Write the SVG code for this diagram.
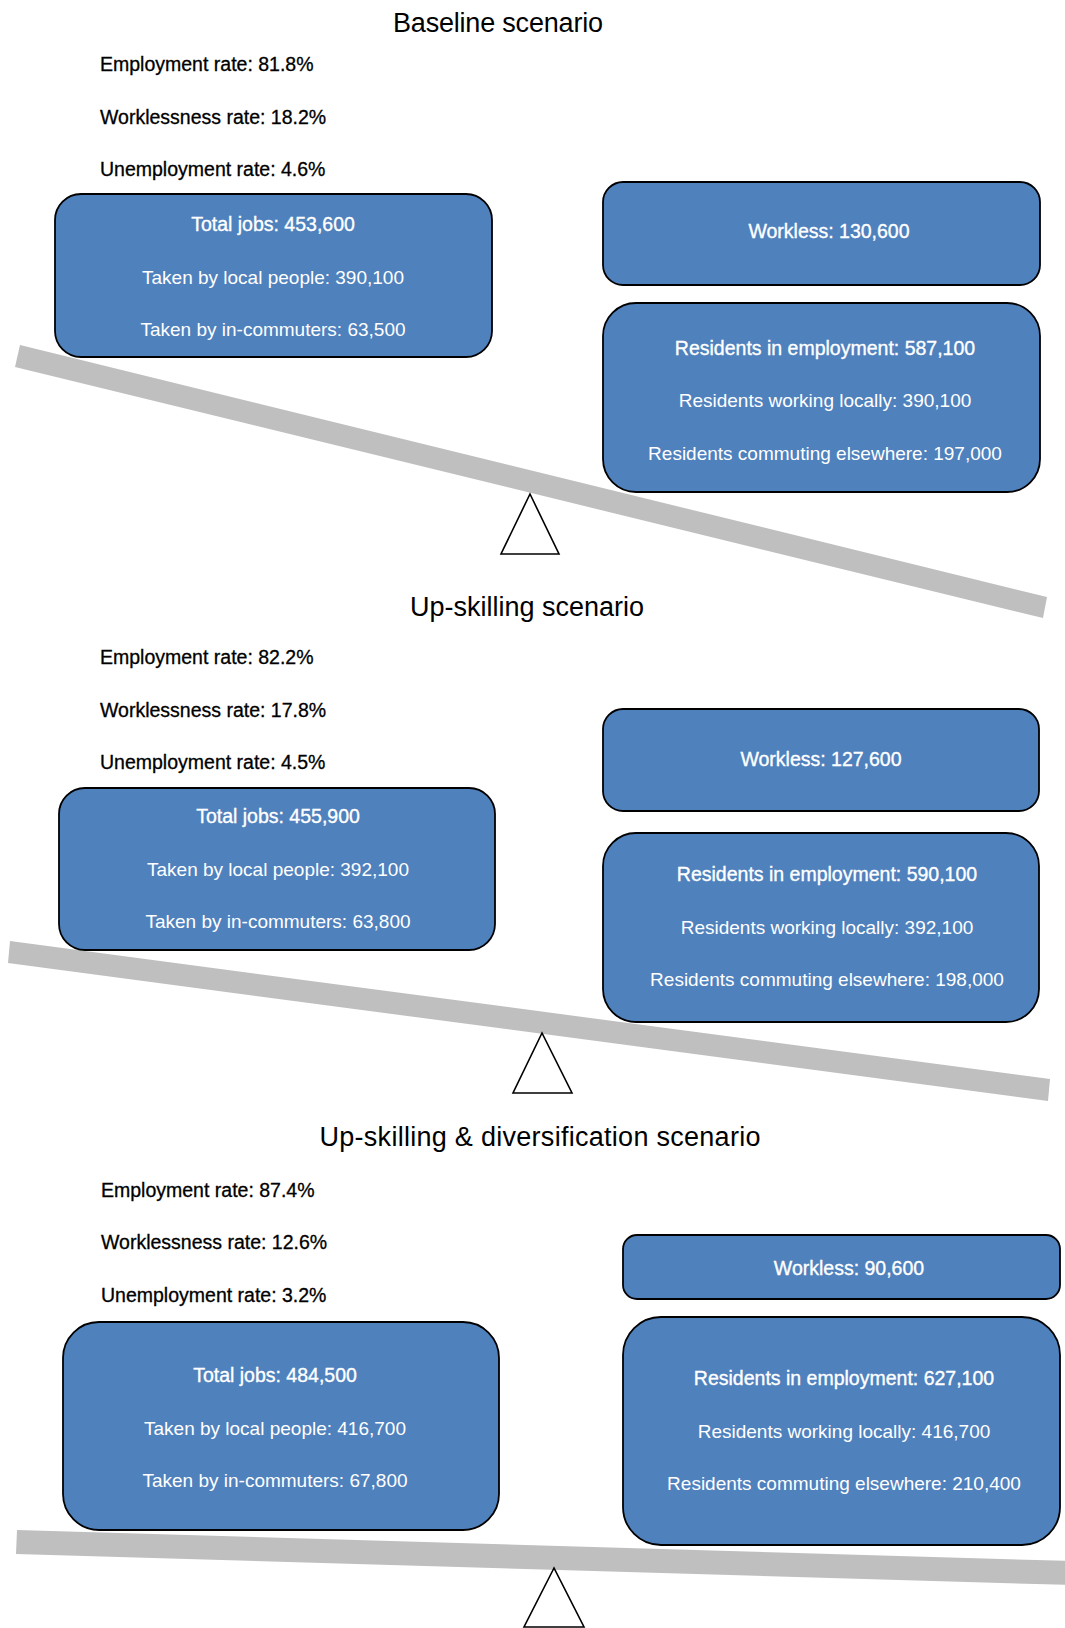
<svg xmlns="http://www.w3.org/2000/svg" width="1065" height="1628" viewBox="0 0 1065 1628">
  <style>
    .title { font-family: "Liberation Sans", Arial, sans-serif; font-size: 27px; fill: #000; text-anchor: middle; }
    .rate { font-family: "Liberation Sans", Arial, sans-serif; font-size: 19.5px; fill: #000; stroke: #000; stroke-width: 0.3px; }
    .box { fill: #4F81BD; stroke: #000; stroke-width: 1.8px; }
    .head { font-family: "Liberation Sans", Arial, sans-serif; font-size: 19.5px; fill: #fff; stroke: #fff; stroke-width: 0.35px; text-anchor: middle; }
    .line { font-family: "Liberation Sans", Arial, sans-serif; font-size: 19px; fill: #fff; text-anchor: middle; }
    .beam { fill: #BFBFBF; }
    .pivot { fill: #fff; stroke: #000; stroke-width: 1.6px; stroke-linejoin: miter; }
  </style>

  <rect width="1065" height="1628" fill="#fff"/>

  <!-- Seesaw beams and pivots, drawn beneath the boxes -->
  <g id="seesaws">
    <polygon class="beam" points="20,345 1047,597 1043,618 15,367"/>
    <polygon class="pivot" points="530,494 501,554 559,554"/>
    <polygon class="beam" points="10,941 1050,1079 1048,1101 8,963"/>
    <polygon class="pivot" points="542,1033 513,1093 572,1093"/>
    <polygon class="beam" points="17,1530 1070,1561 1070,1585 16,1554"/>
    <polygon class="pivot" points="554,1568 524,1627 584,1627"/>
  </g>

  <!-- Baseline scenario -->
  <g id="baseline-header">
    <text class="title" x="498" y="32" textLength="210">Baseline scenario</text>
    <text class="rate" x="100" y="71">Employment rate: 81.8%</text>
    <text class="rate" x="100" y="124">Worklessness rate: 18.2%</text>
    <text class="rate" x="100" y="176">Unemployment rate: 4.6%</text>
  </g>
  <g id="baseline-jobs">
    <rect class="box" x="55" y="194" width="437" height="163" rx="26" ry="26"/>
    <text class="head" x="273" y="231">Total jobs: 453,600</text>
    <text class="line" x="273" y="284">Taken by local people: 390,100</text>
    <text class="line" x="273" y="336">Taken by in-commuters: 63,500</text>
  </g>
  <g id="baseline-workless">
    <rect class="box" x="603" y="182" width="437" height="103" rx="20" ry="20"/>
    <text class="head" x="829" y="238">Workless: 130,600</text>
  </g>
  <g id="baseline-residents">
    <rect class="box" x="603" y="303" width="437" height="189" rx="33" ry="33"/>
    <text class="head" x="825" y="355">Residents in employment: 587,100</text>
    <text class="line" x="825" y="407">Residents working locally: 390,100</text>
    <text class="line" x="825" y="460">Residents commuting elsewhere: 197,000</text>
  </g>

  <!-- Up-skilling scenario -->
  <g id="upskilling-header">
    <text class="title" x="527" y="616" textLength="234">Up-skilling scenario</text>
    <text class="rate" x="100" y="664">Employment rate: 82.2%</text>
    <text class="rate" x="100" y="717">Worklessness rate: 17.8%</text>
    <text class="rate" x="100" y="769">Unemployment rate: 4.5%</text>
  </g>
  <g id="upskilling-jobs">
    <rect class="box" x="59" y="788" width="436" height="162" rx="26" ry="26"/>
    <text class="head" x="278" y="823">Total jobs: 455,900</text>
    <text class="line" x="278" y="876">Taken by local people: 392,100</text>
    <text class="line" x="278" y="928">Taken by in-commuters: 63,800</text>
  </g>
  <g id="upskilling-workless">
    <rect class="box" x="603" y="709" width="436" height="102" rx="20" ry="20"/>
    <text class="head" x="821" y="766">Workless: 127,600</text>
  </g>
  <g id="upskilling-residents">
    <rect class="box" x="603" y="833" width="436" height="189" rx="33" ry="33"/>
    <text class="head" x="827" y="881">Residents in employment: 590,100</text>
    <text class="line" x="827" y="934">Residents working locally: 392,100</text>
    <text class="line" x="827" y="986">Residents commuting elsewhere: 198,000</text>
  </g>

  <!-- Up-skilling & diversification scenario -->
  <g id="diversification-header">
    <text class="title" x="540" y="1146" textLength="441">Up-skilling &amp; diversification scenario</text>
    <text class="rate" x="101" y="1197">Employment rate: 87.4%</text>
    <text class="rate" x="101" y="1249">Worklessness rate: 12.6%</text>
    <text class="rate" x="101" y="1302">Unemployment rate: 3.2%</text>
  </g>
  <g id="diversification-jobs">
    <rect class="box" x="63" y="1322" width="436" height="208" rx="36" ry="36"/>
    <text class="head" x="275" y="1382">Total jobs: 484,500</text>
    <text class="line" x="275" y="1435">Taken by local people: 416,700</text>
    <text class="line" x="275" y="1487">Taken by in-commuters: 67,800</text>
  </g>
  <g id="diversification-workless">
    <rect class="box" x="623" y="1235" width="437" height="64" rx="14" ry="14"/>
    <text class="head" x="849" y="1275">Workless: 90,600</text>
  </g>
  <g id="diversification-residents">
    <rect class="box" x="623" y="1317" width="437" height="228" rx="38" ry="38"/>
    <text class="head" x="844" y="1385">Residents in employment: 627,100</text>
    <text class="line" x="844" y="1438">Residents working locally: 416,700</text>
    <text class="line" x="844" y="1490">Residents commuting elsewhere: 210,400</text>
  </g>
</svg>
